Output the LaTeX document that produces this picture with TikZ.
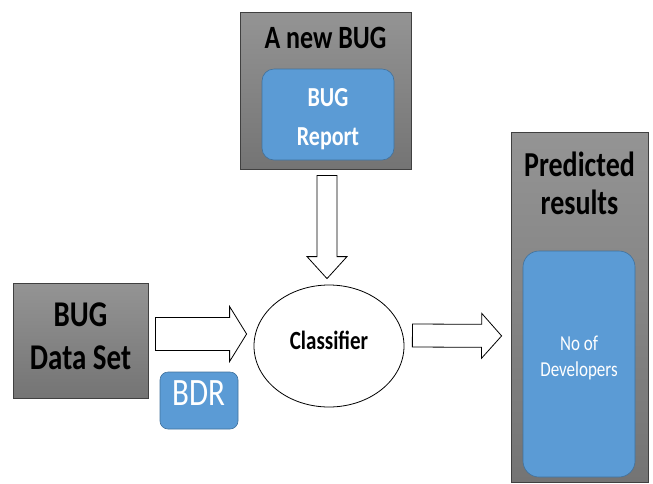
\documentclass[tikz,border=0pt]{standalone}
\usepackage{graphicx}
\usepackage{fontspec}
\setmainfont{Carlito}
\usetikzlibrary{shapes.geometric,calc}

\definecolor{boxblue}{RGB}{91,155,213}
\definecolor{blueedge}{RGB}{65,113,156}
\definecolor{graytop}{RGB}{148,148,148}
\definecolor{graybot}{RGB}{116,116,116}

\newcommand{\fsz}[2]{\fontsize{#1}{#2}\selectfont}
\newcommand{\tall}[1]{\scalebox{1}[1.25]{#1}}
% hollow block arrow: tail, tip, half shaft, half head, head length
\newcommand{\blockarrow}[5]{%
  \coordinate (hb) at ($(#2)!#5!(#1)$);
  \draw[fill=white, line width=0.8pt, line join=miter]
    ($(#1)!#3!90:(#2)$) -- ($(hb)!#3!-90:(#1)$) -- ($(hb)!#4!-90:(#1)$) -- (#2)
    -- ($(hb)!#4!90:(#1)$) -- ($(hb)!#3!90:(#1)$) -- ($(#1)!#3!-90:(#2)$) -- cycle;}

\tikzset{
  graybox/.style={draw=black!75, line width=0.8pt, top color=graytop, bottom color=graybot, inner sep=0pt},
  bluebox/.style={draw=blueedge, line width=0.6pt, fill=boxblue, rounded corners=12pt, inner sep=0pt},
  boxtext/.style={align=center, inner sep=0pt},
  whitetext/.style={boxtext, text=white},
}

\begin{document}
\begin{tikzpicture}[x=1pt,y=-1pt]
    \useasboundingbox (0,0) rectangle (653,483);
    % boxes
    \node (newbug) [graybox, minimum width=171pt, minimum height=157pt] at (325.5,90.5) {};
    \node (newbugtitle) [boxtext, font=\fsz{26}{30}\bfseries] at (325.5,38) {\tall{A new BUG}};
    \node (report) [bluebox, minimum width=132pt, minimum height=91pt,
        label={[name=reporttext, whitetext, font=\fsz{22}{39}\bfseries, yshift=-5pt]center:\tall{BUG}\\\tall{Report}}] at (328,114.5) {};
    \node (data) [graybox, minimum width=135pt, minimum height=115pt,
        label={[name=datatext, boxtext, font=\fsz{29}{43}\bfseries, yshift=4pt]center:\tall{BUG}\\\tall{Data Set}}] at (80.5,340.5) {};
    \node (bdr) [bluebox, rounded corners=8pt, minimum width=78pt, minimum height=57pt,
        label={[name=bdrtext, whitetext, font=\fsz{31}{36}, yshift=7.5pt]center:\tall{BDR}}] at (199,400.5) {};
    \node (classifier) [draw, ellipse, line width=0.8pt, minimum width=150pt, minimum height=122pt,
        label={[name=classifiertext, boxtext, font=\fsz{21}{25}\bfseries, yshift=6pt]center:\tall{Classifier}}] at (329,346) {};
    \node (results) [graybox, anchor=north, minimum width=137pt, minimum height=350pt] at (579.5,132) {};
    \node (resultstitle) [boxtext, font=\fsz{28}{38}\bfseries] at (579.5,183) {\tall{Predicted}\\\tall{results}};
    \node (devs) [bluebox, rounded corners=16pt, minimum width=112pt, minimum height=226pt,
        label={[name=devstext, whitetext, font=\fsz{17}{26}, yshift=6pt]center:\tall{No of}\\\tall{Developers}}] at (579,364) {};
    % arrows
    \coordinate (downtail) at ($(newbug.south)+(1.5,6)$);
    \coordinate (downtip) at ($(classifier.north)+(-2,-6)$);
    \coordinate (lefttail) at ($(data.east)+(7,-6.5)$);
    \coordinate (lefttip) at ($(classifier.west)+(-7,-12)$);
    \coordinate (righttail) at ($(classifier.east)+(8,-10.5)$);
    \coordinate (righttip) at ($(results.west)+(-9,28.5)$);
    \blockarrow{downtail}{downtip}{10pt}{20pt}{22pt}
    \blockarrow{lefttail}{lefttip}{16.5pt}{27.5pt}{17pt}
    \blockarrow{righttail}{righttip}{11.5pt}{22.5pt}{20pt}
\end{tikzpicture}
\end{document}
